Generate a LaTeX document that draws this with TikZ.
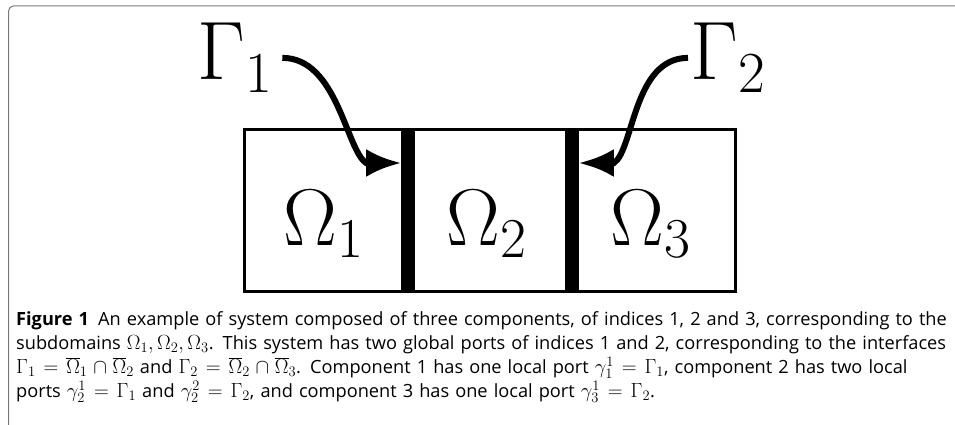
\RequirePackage{fix-cm}
\documentclass[tikz,border=0pt]{standalone}
\usepackage{fontspec}
\newfontfamily\capfont{Open Sans}
\DeclareMathSizes{20.5}{20.5}{14.5}{11}
\newcommand{\capmath}[1]{{\fontsize{20.5}{24.3}\selectfont\thickmuskip=7mu\medmuskip=5mu$#1$}}
\usetikzlibrary{arrows.meta,positioning,calc}

\begin{document}
\begin{tikzpicture}[x=1pt,y=-1pt,
  cell/.style={draw=black,line width=3pt,minimum width=163.7pt,minimum height=162pt,inner sep=0pt,outer sep=0pt},
  wall/.style={draw=black,line width=14pt},
  port/.style={draw=black,line width=6pt,-{Latex[length=35pt,width=28pt]}},
  gam/.style={inner sep=0pt,font=\fontsize{83}{83}\selectfont},
  omlbl/.style={inner sep=0pt,anchor=base,font=\fontsize{80.5}{80.5}\selectfont}]

\useasboundingbox (0,0) rectangle (955,425);

%frame
\path[draw=black!52,line width=1pt,rounded corners=5pt] (8.5,425) -- (8.5,6) -- (955,6);

%cells
\node[cell] (c1) at (326.3,210.5) {};
\node[cell,right=0pt of c1] (c2) {};
\node[cell,right=0pt of c2] (c3) {};

\node[omlbl] (om1) at ([xshift=-3pt,yshift=-34.5pt]c1.center) {$\Omega_1$};
\node[omlbl] (om2) at ([xshift=-3pt,yshift=-34.5pt]c2.center) {$\Omega_2$};
\node[omlbl] (om3) at ([xshift=-3pt,yshift=-34.5pt]c3.center) {$\Omega_3$};

%interfaces
\path[wall] (c1.north east) -- (c1.south east);
\path[wall] (c2.north east) -- (c2.south east);

%gamma1
\node[gam,anchor=base west] (g1) at (197,80) {$\Gamma_1$};
\coordinate (t1) at ($(c1.east)+(-7,-47.5)$);
\path[port] ([xshift=10pt]g1.east) .. controls +(55,0) and +(-20,-13) .. ([xshift=-35pt]t1) -- (t1);

%gamma2
\node[gam,anchor=base west] (g2) at (690,80) {$\Gamma_2$};
\coordinate (t2) at ($(c2.east)+(7,-47.5)$);
\path[port] ([xshift=-2pt]g2.west) .. controls +(-55,0) and +(20,-13) .. ([xshift=35pt]t2) -- (t2);

%caption
\node[anchor=base west,inner sep=0pt,text width=950pt,align=left,
  font=\capfont\fontsize{18.2}{24.3}\selectfont] (cap) at (16,325)
  {\textbf{Figure 1}\enspace An example of system composed of three components, of indices 1, 2 and 3, corresponding to the\\
  subdomains \capmath{\Omega_1, \Omega_2, \Omega_3}. This system has two global ports of indices 1 and 2, corresponding to the interfaces\\
  \capmath{\Gamma_1 = \overline{\Omega}_1 \cap \overline{\Omega}_2} and \capmath{\Gamma_2 = \overline{\Omega}_2 \cap \overline{\Omega}_3}. Component 1 has one local port \capmath{\gamma_1^1 = \Gamma_1}, component 2 has two local\\
  ports \capmath{\gamma_2^1 = \Gamma_1} and \capmath{\gamma_2^2 = \Gamma_2}, and component 3 has one local port \capmath{\gamma_3^1 = \Gamma_2}.};

\end{tikzpicture}
\end{document}
